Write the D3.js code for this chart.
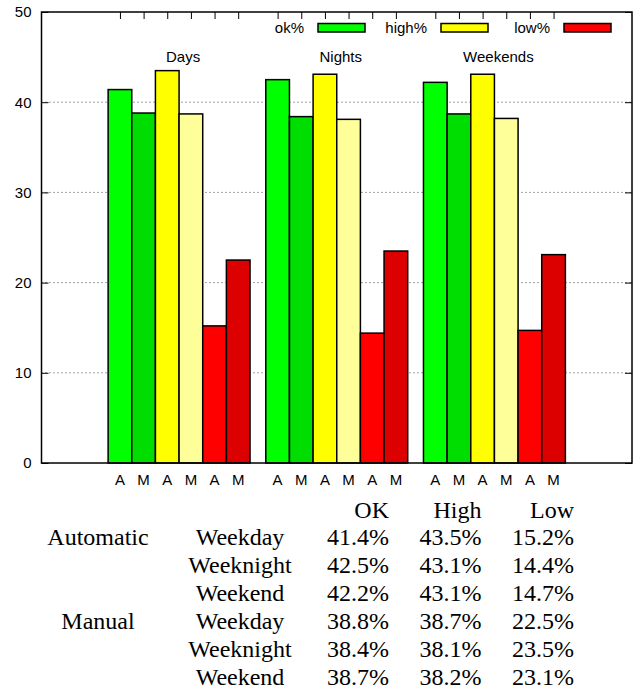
<!DOCTYPE html>
<html>
<head>
<meta charset="utf-8">
<script src="https://cdn.jsdelivr.net/npm/d3@7"></script>
<style>
  body { margin: 0; background: #fff; }
  svg { display: block; }
</style>
</head>
<body>
<svg id="chart" width="644" height="693"></svg>
<script>
// groups along the x axis and the table rows they stand for
const groups = ["Days", "Nights", "Weekends"];
const periods = ["Weekday", "Weeknight", "Weekend"];
const transmissions = ["Automatic", "Manual"];
const columns = ["OK", "High", "Low"];

// percentages, one value per group
const okAuto = [41.4, 42.5, 42.2];
const okManual = [38.8, 38.4, 38.7];
const highAuto = [43.5, 43.1, 43.1];
const highManual = [38.7, 38.1, 38.2];
const lowAuto = [15.2, 14.4, 14.7];
const lowManual = [22.5, 23.5, 23.1];

const yTicks = [0, 10, 20, 30, 40, 50];
const legendLabels = ["ok%", "high%", "low%"];

const series = [
  { key: "okA", tag: "A", values: okAuto, color: "#00ff00" },
  { key: "okM", tag: "M", values: okManual, color: "#00dd00" },
  { key: "highA", tag: "A", values: highAuto, color: "#ffff00" },
  { key: "highM", tag: "M", values: highManual, color: "#ffff99" },
  { key: "lowA", tag: "A", values: lowAuto, color: "#ff0000" },
  { key: "lowM", tag: "M", values: lowManual, color: "#dd0000" }
];

const svg = d3.select("#chart");
const plotL = 41.5, plotR = 632, plotT = 12, plotB = 463;
const sans = "'Liberation Sans', Arial, sans-serif";

const x0 = d3.scaleBand().domain(groups).range([plotL, plotR])
    .paddingInner(0.1).paddingOuter(0.4225);
const x1 = d3.scaleBand().domain(series.map(s => s.key)).range([0, x0.bandwidth()]);
const y = d3.scaleLinear().domain([0, 50]).range([plotB, plotT]);

// dotted grid
svg.append("g").selectAll("line")
    .data(yTicks.filter(t => t > 0 && t < 50))
    .enter().append("line")
    .attr("x1", plotL).attr("x2", plotR)
    .attr("y1", d => y(d)).attr("y2", d => y(d))
    .attr("stroke", "#444").attr("stroke-width", 1)
    .attr("stroke-dasharray", "1,3");

// y axis left and mirrored right
const yAxis = d3.axisLeft(y).tickValues(yTicks).tickSizeInner(-7).tickSizeOuter(0).tickPadding(10);
const gy = svg.append("g").attr("transform", `translate(${plotL},0)`).call(yAxis);
gy.select(".domain").remove();
gy.selectAll("line").attr("stroke", "#000");
gy.selectAll("text").attr("font-family", sans).attr("font-size", 15).attr("fill", "#000");

const gyr = svg.append("g").attr("transform", `translate(${plotR},0)`)
    .call(d3.axisRight(y).tickValues(yTicks).tickSizeInner(-7).tickSizeOuter(0).tickFormat(""));
gyr.select(".domain").remove();

// bar centre ticks along the top
const barCentres = [];
groups.forEach(g => series.forEach(s => {
  barCentres.push({ x: x0(g) + x1(s.key) + x1.bandwidth() / 2, tag: s.tag });
}));
const xTick = d3.scaleLinear().domain([0, 644]).range([0, 644]);
const gxt = svg.append("g").attr("transform", `translate(0,${plotT})`)
    .call(d3.axisTop(xTick).tickValues(barCentres.map(d => d.x)).tickSizeInner(-7).tickSizeOuter(0).tickFormat(""));
gxt.select(".domain").remove();

// bars
const groupSel = svg.append("g").selectAll("g")
    .data(groups)
    .enter().append("g")
    .attr("transform", d => `translate(${x0(d)},0)`);

groupSel.selectAll("rect")
    .data((g, gi) => series.map(s => ({ key: s.key, value: s.values[gi], color: s.color })))
    .enter().append("rect")
    .attr("x", d => x1(d.key))
    .attr("y", d => y(d.value))
    .attr("width", x1.bandwidth())
    .attr("height", d => y(0) - y(d.value))
    .attr("fill", d => d.color)
    .attr("stroke", "#000")
    .attr("stroke-width", 1.5);

// A / M labels under bars
svg.append("g").selectAll("text")
    .data(barCentres)
    .enter().append("text")
    .attr("x", d => d.x)
    .attr("y", 485)
    .attr("text-anchor", "middle")
    .attr("font-family", sans)
    .attr("font-size", 15)
    .text(d => d.tag);

// group titles
svg.append("g").selectAll("text")
    .data(groups)
    .enter().append("text")
    .attr("x", d => x0(d) + x0.bandwidth() / 2 + 4)
    .attr("y", 62)
    .attr("text-anchor", "middle")
    .attr("font-family", sans)
    .attr("font-size", 15)
    .text(d => d);

// frame
svg.append("rect")
    .attr("x", plotL).attr("y", plotT)
    .attr("width", plotR - plotL).attr("height", plotB - plotT)
    .attr("fill", "none").attr("stroke", "#000").attr("stroke-width", 1.5);

// legend
const legendColors = [series[0].color, series[2].color, series[4].color];
const legend = svg.append("g").selectAll("g")
    .data(legendLabels)
    .enter().append("g")
    .attr("transform", (d, i) => `translate(${304 + i * 123},0)`);
legend.append("text")
    .attr("x", 0).attr("y", 33)
    .attr("text-anchor", "end")
    .attr("font-family", sans)
    .attr("font-size", 15)
    .text(d => d);
legend.append("rect")
    .attr("x", 14).attr("y", 23.5)
    .attr("width", 47).attr("height", 8.5)
    .attr("fill", (d, i) => legendColors[i])
    .attr("stroke", "#000").attr("stroke-width", 1.5);

// table under the chart
const serif = "'Liberation Serif', 'Times New Roman', serif";
const rowY = i => 517.5 + i * 27.9;
const colRight = [389, 481.5, 574];
const table = svg.append("g")
    .attr("font-family", serif)
    .attr("font-size", 24)
    .attr("fill", "#000");

table.selectAll(".head")
    .data(columns)
    .enter().append("text")
    .attr("x", (d, i) => colRight[i])
    .attr("y", rowY(0))
    .attr("text-anchor", "end")
    .text(d => d);

const rows = [];
transmissions.forEach((t, ti) => {
  const ok = ti === 0 ? okAuto : okManual;
  const high = ti === 0 ? highAuto : highManual;
  const low = ti === 0 ? lowAuto : lowManual;
  periods.forEach((p, pi) => {
    rows.push({ trans: pi === 0 ? t : "", period: p, vals: [ok[pi], high[pi], low[pi]] });
  });
});

const rowSel = table.selectAll(".row")
    .data(rows)
    .enter().append("g")
    .attr("transform", (d, i) => `translate(0,${rowY(i + 1)})`);
rowSel.append("text")
    .attr("x", 98).attr("text-anchor", "middle")
    .text(d => d.trans);
rowSel.append("text")
    .attr("x", 240).attr("text-anchor", "middle")
    .text(d => d.period);
rowSel.selectAll(".v")
    .data(d => d.vals)
    .enter().append("text")
    .attr("x", (d, i) => colRight[i])
    .attr("text-anchor", "end")
    .text(d => d.toFixed(1) + "%");
</script>
</body>
</html>
